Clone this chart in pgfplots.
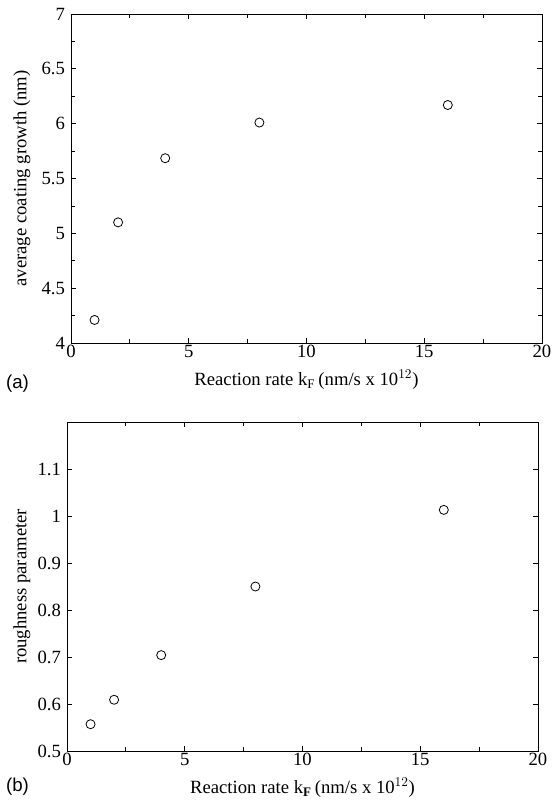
\documentclass[border=0pt]{standalone}
\usepackage{pgfplots}
\pgfplotsset{compat=1.18}
\usepackage{fontspec}
\setmainfont{Liberation Serif}
\newfontfamily\labsans{Liberation Sans}
\begin{document}
\begin{tikzpicture}
\useasboundingbox (0pt,0pt) rectangle (419.25pt,608.25pt);
\pgfplotsset{
  common/.style={
    scale only axis,
    width=353.25pt, height=246.75pt,
    xmin=0, xmax=20,
    xtick={0,5,...,20},
    minor x tick num=1,
    tick align=inside,
    xtick pos=both, ytick pos=both,
    major tick length=4pt,
    minor tick length=3pt,
    tick style={black, line width=0.6pt},
    axis line style={line width=0.7pt},
    /pgf/number format/assume math mode=true,
    tick label style={font=\fontsize{14}{16}\selectfont},
    label style={font=\fontsize{14}{16}\selectfont},
    xlabel style={at={(axis description cs:0.5,0)}, anchor=center, yshift=-27.75pt},
    xticklabel style={yshift=2pt},
    yticklabel style={xshift=-1pt},
  },
  pts/.style={only marks, mark=o, mark size=3.4pt, black, mark options={line width=0.6pt}},
}
\begin{axis}[common, at={(53.25pt,351pt)}, anchor=south west,
  ymin=4, ymax=7, ytick={4,4.5,...,7}, minor y tick num=1,
  xlabel={Reaction rate k$_{\mathrm{F}}$\,(nm/s x 10$^{12}$)},
  ylabel style={at={(axis description cs:0,0.5)}, anchor=center, yshift=36.75pt},
  ylabel={average coating growth (nm)}]
\addplot[pts] coordinates {(1,4.21) (2,5.10) (4,5.685) (8,6.01) (16,6.17)};
\end{axis}
\node[font=\labsans\fontsize{14}{16}\selectfont, anchor=west] at (1pt,320.5pt) {(a)};
\begin{axis}[common, at={(50.25pt,45pt)}, anchor=south west,
  ymin=0.5, ymax=1.2, ytick={0.5,0.6,...,1.1}, minor y tick num=0,
  xlabel={Reaction rate k$_{\mathbf{F}}$\,(nm/s x 10$^{12}$)},
  ylabel style={at={(axis description cs:0,0.5)}, anchor=center, yshift=33.75pt},
  ylabel={roughness parameter}]
\addplot[pts] coordinates {(1,0.557) (2,0.609) (4,0.704) (8,0.850) (16,1.013)};
\end{axis}
\node[font=\labsans\fontsize{14}{16}\selectfont, anchor=west] at (1pt,18pt) {(b)};
\end{tikzpicture}
\end{document}
